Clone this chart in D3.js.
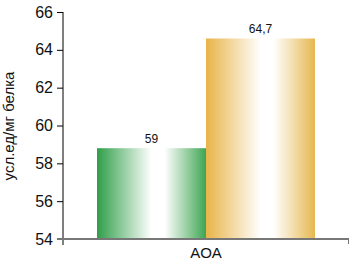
<!DOCTYPE html>
<html>
<head>
<meta charset="utf-8">
<script src="https://cdn.jsdelivr.net/npm/d3@7"></script>
<style>
  body { margin: 0; background: #fff; }
  svg text { font-family: "Liberation Sans Narrow", "Arial Narrow", "Liberation Sans", sans-serif; }
</style>
</head>
<body>
<div class="vis"></div>
<script>
const categories = ["AOA"];
const series = ["s1", "s2"];
const values = [58.8, 64.6];
const valueLabels = ["59", "64,7"];
const yTicks = [54, 56, 58, 60, 62, 64, 66];
const yTitle = "усл.ед/мг белка";

const colors = {
    s1: ["#2f9e48", "#ffffff", "#3ea552"],
    s2: ["#e8b448", "#ffffff", "#e6b850"]
};

const width = 351, height = 262;

let svg = d3.select('.vis')
    .append("svg")
    .attr("width", width)
    .attr("height", height);

const x = d3.scaleBand()
    .domain(categories)
    .range([63, 349])
    .paddingInner(0)
    .paddingOuter(0.156);

const xSub = d3.scaleBand()
    .domain(series)
    .range([0, x.bandwidth()]);

const y = d3.scaleLinear()
    .domain([54, 66])
    .range([239, 12]);

// gradients
const defs = svg.append("defs");
series.forEach(s => {
    const g = defs.append("linearGradient")
        .attr("id", "grad-" + s)
        .attr("x1", "0%").attr("x2", "100%")
        .attr("y1", "0%").attr("y2", "0%");
    g.append("stop").attr("offset", "0%").attr("stop-color", colors[s][0]);
    g.append("stop").attr("offset", "50%").attr("stop-color", colors[s][1]);
    g.append("stop").attr("offset", "62%").attr("stop-color", colors[s][1]);
    g.append("stop").attr("offset", "100%").attr("stop-color", colors[s][2]);
});

const data = series.map((s, i) => ({ key: s, value: values[i], label: valueLabels[i] }));

svg.append("g")
    .selectAll("rect")
    .data(data)
    .join("rect")
    .attr("x", d => x(categories[0]) + xSub(d.key))
    .attr("width", xSub.bandwidth())
    .attr("y", d => y(d.value))
    .attr("height", d => y(54) - y(d.value))
    .attr("fill", d => "url(#grad-" + d.key + ")");

svg.append("g")
    .selectAll("text")
    .data(data)
    .join("text")
    .attr("x", d => x(categories[0]) + xSub(d.key) + xSub.bandwidth() / 2)
    .attr("y", d => y(d.value) - 5)
    .attr("text-anchor", "middle")
    .attr("font-size", 12)
    .attr("fill", "#111")
    .text(d => d.label);

// y axis
const yAxis = svg.append("g")
    .attr("transform", "translate(63,0)")
    .call(d3.axisLeft(y).tickValues(yTicks).tickSize(6).tickPadding(4).tickSizeOuter(0));
yAxis.select(".domain").remove();
yAxis.append("line")
    .attr("x1", 0).attr("x2", 0)
    .attr("y1", y(66)).attr("y2", 245)
    .attr("stroke", "#000");
yAxis.selectAll(".tick text")
    .attr("font-size", 16)
    .attr("fill", "#111")
    .style("font-family", '"Liberation Sans Narrow", "Arial Narrow", sans-serif');

// baseline
svg.append("line")
    .attr("x1", 57).attr("x2", 349)
    .attr("y1", y(54)).attr("y2", y(54))
    .attr("stroke", "#777")
    .attr("stroke-width", 2);
svg.append("line")
    .attr("x1", 348.5).attr("x2", 348.5)
    .attr("y1", y(54)).attr("y2", 244)
    .attr("stroke", "#777");

// category label
svg.append("text")
    .attr("x", x(categories[0]) + x.bandwidth() / 2)
    .attr("y", 258)
    .attr("text-anchor", "middle")
    .attr("font-size", 15)
    .attr("fill", "#111")
    .text(categories[0]);

// y title
svg.append("text")
    .attr("transform", "translate(14," + 126 + ") rotate(-90)")
    .attr("text-anchor", "middle")
    .attr("font-size", 15)
    .attr("fill", "#111")
    .text(yTitle);
</script>
</body>
</html>
